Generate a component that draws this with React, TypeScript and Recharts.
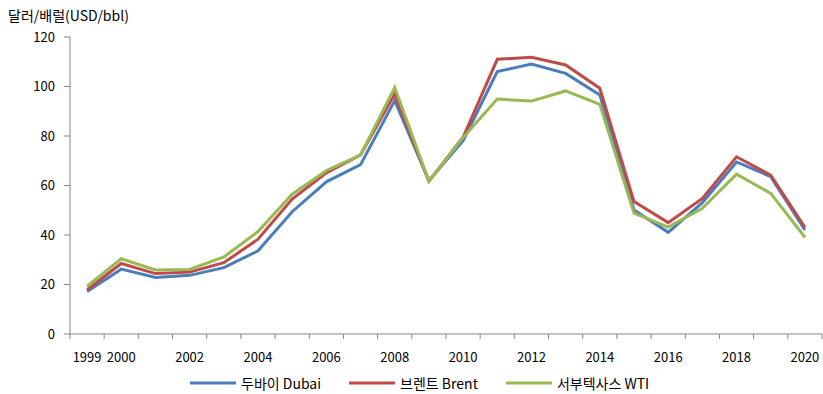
import React from "react";
import { LineChart, Line, XAxis, YAxis, Legend } from "recharts";

document.body.style.margin = "0";

const years = [
  1999, 2000, 2001, 2002, 2003, 2004, 2005, 2006, 2007, 2008, 2009,
  2010, 2011, 2012, 2013, 2014, 2015, 2016, 2017, 2018, 2019, 2020,
];
const dubai = [
  17.2, 26.2, 22.8, 23.7, 26.8, 33.6, 49.4, 61.5, 68.4, 94.3, 61.9,
  78.1, 106.0, 109.1, 105.3, 96.6, 50.1, 41.1, 53.1, 69.5, 63.6, 42.0,
];
const brent = [
  17.9, 28.5, 24.4, 25.0, 28.8, 38.3, 54.5, 65.1, 72.4, 97.0, 61.7,
  79.5, 111.0, 111.8, 108.7, 99.3, 53.5, 45.0, 54.8, 71.6, 64.2, 43.1,
];
const wti = [
  19.3, 30.4, 25.9, 26.1, 31.1, 41.4, 56.5, 66.0, 72.3, 99.6, 61.7,
  79.4, 94.9, 94.1, 98.2, 92.8, 48.8, 43.2, 50.8, 64.6, 56.8, 39.1,
];
const xLabels = [1999, 2000, 2002, 2004, 2006, 2008, 2010, 2012, 2014, 2016, 2018, 2020];
const yTicks = [0, 20, 40, 60, 80, 100, 120];

const series = [
  { key: "dubai", name: "두바이 Dubai", color: "#4A7EBB" },
  { key: "brent", name: "브렌트 Brent", color: "#BE4B48" },
  { key: "wti", name: "서부텍사스 WTI", color: "#98B954" },
];

const data = years.map((year, i) => ({
  year,
  dubai: dubai[i],
  brent: brent[i],
  wti: wti[i],
}));

// tick marks sit on category boundaries, labels on category centres
const boundaries = [...years.map((y) => y - 0.5), years[years.length - 1] + 0.5];
const xTicks = [...boundaries, ...xLabels].sort((a, b) => a - b);

const FONT = "'Noto Sans CJK KR', 'Noto Sans', sans-serif";
const AXIS = "#868686";

function XTick({ x, y, payload }: any) {
  const v = payload.value;
  if (v % 1 !== 0) {
    return <line x1={x} x2={x} y1={y} y2={y + 5} stroke={AXIS} strokeWidth={1} />;
  }
  return (
    <text x={x} y={y + 28} textAnchor="middle" fontSize={13} fill="#000" fontFamily={FONT}>
      {v}
    </text>
  );
}

function LegendBox() {
  return (
    <div
      style={{
        display: "flex",
        alignItems: "center",
        paddingLeft: 182,
        fontFamily: FONT,
        fontSize: 14,
        color: "#000",
        height: 22,
      }}
    >
      {series.map((s) => (
        <div key={s.key} style={{ display: "flex", alignItems: "center", marginRight: 28 }}>
          <svg width={46} height={10} style={{ marginRight: 5 }}>
            <line x1={0} x2={46} y1={5} y2={5} stroke={s.color} strokeWidth={3} />
          </svg>
          <span>{s.name}</span>
        </div>
      ))}
    </div>
  );
}

export default function App() {
  return (
    <div style={{ position: "relative", width: 823, height: 394, background: "#fff" }}>
      <div
        style={{
          position: "absolute",
          left: 8,
          top: 5,
          fontFamily: FONT,
          fontSize: 14,
          color: "#000",
        }}
      >
        달러/배럴(USD/bbl)
      </div>
      <LineChart
        width={823}
        height={394}
        data={data}
        margin={{ top: 37, right: 1, bottom: 0, left: 8 }}
      >
        <XAxis
          dataKey="year"
          type="number"
          domain={[1998.5, 2020.5]}
          ticks={xTicks}
          interval={0}
          tickLine={false}
          tickSize={0}
          tickMargin={0}
          tick={<XTick />}
          stroke={AXIS}
          height={38}
        />
        <YAxis
          domain={[0, 120]}
          ticks={yTicks}
          width={62}
          stroke={AXIS}
          tickSize={6}
          tickMargin={9}
          tick={{ fill: "#000", fontSize: 13, fontFamily: FONT }}
        />
        <Legend verticalAlign="bottom" height={22} content={<LegendBox />} />
        {series.map((s) => (
          <Line
            key={s.key}
            dataKey={s.key}
            name={s.name}
            stroke={s.color}
            strokeWidth={3}
            dot={false}
            type="linear"
            isAnimationActive={false}
          />
        ))}
      </LineChart>
    </div>
  );
}
